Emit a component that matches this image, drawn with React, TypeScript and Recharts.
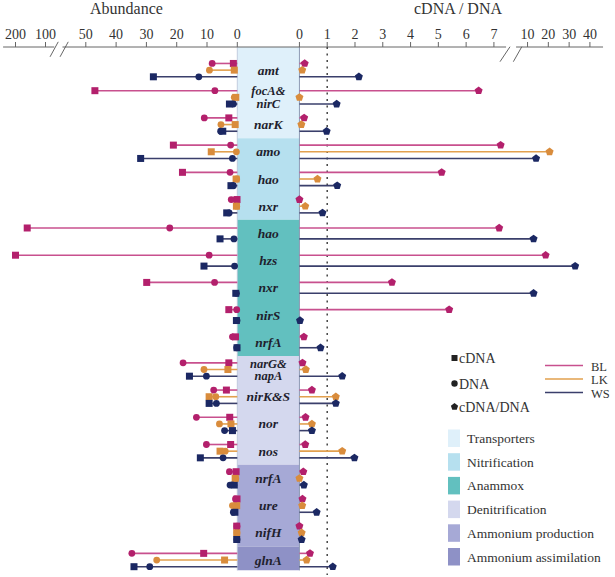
import React from 'react';
import { ComposedChart, XAxis, YAxis, Scatter, ReferenceLine, ReferenceArea } from 'recharts';

// ---------- data ----------
const genes = ['amt', 'focA&nirC', 'narK', 'amo', 'hao', 'nxr', 'hao', 'hzs', 'nxr', 'nirS', 'nrfA', 'narG&napA', 'nirK&S', 'nor', 'nos', 'nrfA', 'ure', 'nifH', 'glnA'];
const groupNames = ['Transporters', 'Nitrification', 'Anammox', 'Denitrification', 'Ammonium production', 'Ammonium assimilation'];
const groupFirst = [0, 3, 6, 11, 15, 18];
const groupLast = [2, 5, 10, 14, 17, 18];
const groupColors = ['#dff0fa', '#b6e0ef', '#62c0bf', '#d4d8ee', '#a6a9d6', '#8e91c6'];

const sites = ['BL', 'LK', 'WS'];
const siteMarker = ['#b3206c', '#d98c3c', '#1b2863'];
const siteLine = ['#c8508e', '#e2a04e', '#3a3f6b'];

const blCDNA = [1.3, 47, 2.8, 21.1, 18.1, 0.1, 161, 200, 29.9, 2.8, 0.6, 2.8, 3.6, 2.5, 2.2, 0.4, 0.1, 0.2, 11.1];
const blDNA = [8.3, 7.4, 10.9, 2.2, 2.4, 2.0, 22.3, 9.3, 7.5, 0.2, 1.6, 17.9, 7.8, 13.5, 10.2, 2.6, 0.6, 0.1, 34.8];
const blRatio = [0.19, 6.45, 0.17, 7.6, 5.12, 0.0, 7.47, 18.7, 3.33, 5.39, 0.16, 0.11, 0.45, 0.22, 0.21, 0.14, 0.11, 0.0, 0.38];

const lkCDNA = [1.0, 0.5, 0.7, 8.6, 0.4, 0.3, null, null, null, null, null, 3.1, 9.3, 2.1, 5.7, 0.7, 0.2, 0.2, 4.2];
const lkDNA = [9.2, 1.0, 5.4, 0.3, 0.2, 0.2, null, null, null, null, null, 11, 7.1, 5.9, 4.0, 0.5, 1.6, 0.1, 26.6];
const lkRatio = [0.1, 0.0, 0.07, 20.6, 0.65, 0.21, null, null, null, null, null, 0.23, 1.31, 0.45, 1.54, 0.0, 0.1, 0.08, 0.26];

const wsCDNA = [27.7, 2.6, 4.8, 31.9, 2.1, 3.5, 5.7, 11, 0.5, 0.3, 0.1, 15.8, 9.3, 1.6, 12.2, 1.0, 0.8, 0.2, 34.1];
const wsDNA = [12.7, 1.3, 5.5, 1.6, 1.3, 2.7, 1.1, 0.9, 0.3, 0.1, 0.2, 10.2, 6.9, 4.2, 4.7, 2.4, 1.3, 0.1, 28.9];
const wsRatio = [2.14, 1.34, 0.98, 14.1, 1.36, 0.83, 12.9, 32.9, 12.9, 0.02, 0.76, 1.54, 1.31, 0.45, 1.98, 0.16, 0.62, 0.08, 1.2];

const leftTicks = [200, 100, 50, 40, 30, 20, 10, 0];
const rightTicks = [0, 1, 2, 3, 4, 5, 6, 7, 10, 20, 30, 40];

const cdnaBySite = [blCDNA, lkCDNA, wsCDNA];
const dnaBySite = [blDNA, lkDNA, wsDNA];
const ratioBySite = [blRatio, lkRatio, wsRatio];

// ---------- broken-axis transforms ----------
const W = 20.5; // centre column width in axis units
const XMIN = -78.32;
const XMAX = 124.65;
const YMIN = -0.85;
const YMAX = 18.55;

function fL(a: number) {
  if (a <= 50) return a;
  if (a <= 100) return 50 + (a - 50) * 0.266;
  return 63.3 + (a - 100) * 0.099;
}
function fR(r: number) {
  if (r <= 7) return r * 9.17;
  if (r <= 10) return 64.19 + (r - 7) * 3.7;
  return 75.29 + (r - 10) * 0.686;
}

const tickObjs = [
  ...leftTicks.map((a) => ({ pos: -fL(a), label: String(a) })),
  ...rightTicks.map((r) => ({ pos: W + fR(r), label: String(r) })),
];
const tickPositions = tickObjs.map((t) => t.pos);

function rowY(i: number, s: number) {
  if (lkCDNA[i] === null) return i + (s === 0 ? -0.2 : 0.2);
  return i + (s - 1) * 0.245;
}

const FONT = '"Liberation Serif", "DejaVu Serif", serif';

function pentPoints(cx: number, cy: number, r: number) {
  const pts: string[] = [];
  for (let k = 0; k < 5; k++) {
    const ang = ((-90 + k * 72) * Math.PI) / 180;
    pts.push(`${cx + r * Math.cos(ang)},${cy + r * Math.sin(ang)}`);
  }
  return pts.join(' ');
}

const squareShape = (color: string) => (p: any) => (
  <rect x={p.cx - 3.5} y={p.cy - 3.5} width={7} height={7} fill={color} />
);
const circleShape = (color: string) => (p: any) => <circle cx={p.cx} cy={p.cy} r={3.4} fill={color} />;
const pentShape = (color: string) => (p: any) => <polygon points={pentPoints(p.cx, p.cy, 4.2)} fill={color} />;

const geneShape = (p: any) => {
  const label: string = p.payload.label;
  const amp = label.indexOf('&');
  const parts = amp > 0 && amp < label.length - 2 ? [label.slice(0, amp + 1), label.slice(amp + 1)] : [label];
  const style = { fontFamily: FONT, fontWeight: 700, fontStyle: 'italic', fontSize: 13.5, fill: '#1f1f2e' } as any;
  if (parts.length === 1) {
    return (
      <text x={p.cx} y={p.cy + 4.5} textAnchor="middle" style={style}>
        {parts[0]}
      </text>
    );
  }
  const style2 = { ...style, fontSize: 12.5 };
  return (
    <g>
      <text x={p.cx} y={p.cy - 2} textAnchor="middle" style={style2}>{parts[0]}</text>
      <text x={p.cx} y={p.cy + 10.5} textAnchor="middle" style={style2}>{parts[1]}</text>
    </g>
  );
};

const renderTick = (props: any) => {
  const v = props.payload.value;
  let best = tickObjs[0];
  for (const t of tickObjs) if (Math.abs(t.pos - v) < Math.abs(best.pos - v)) best = t;
  return (
    <text x={props.x} y={props.y - 1.5} textAnchor="middle" style={{ fontFamily: FONT, fontSize: 14, fill: '#333' }}>
      {best.label}
    </text>
  );
};

export default function App() {
  const geneData = genes.map((g, i) => ({ x: W / 2, y: i, label: g }));

  const leftSegs: any[] = [];
  const rightSegs: any[] = [];
  sites.forEach((_, s) => {
    genes.forEach((__, i) => {
      const c = cdnaBySite[s][i];
      const d = dnaBySite[s][i];
      const r = ratioBySite[s][i];
      if (c === null || d === null) return;
      const y = rowY(i, s);
      const end = Math.max(fL(c), fL(d));
      leftSegs.push({ key: `l${s}-${i}`, y, x: -end, color: siteLine[s] });
      if (r !== null && r > 0) rightSegs.push({ key: `r${s}-${i}`, y, x: W + fR(r), color: siteLine[s] });
    });
  });

  const pts = (s: number, kind: 'c' | 'd' | 'r') =>
    genes
      .map((_, i) => {
        const v = kind === 'c' ? cdnaBySite[s][i] : kind === 'd' ? dnaBySite[s][i] : ratioBySite[s][i];
        if (v === null) return null;
        return { x: kind === 'r' ? W + fR(v) : -fL(v), y: rowY(i, s) };
      })
      .filter(Boolean) as any[];

  const bandTop = (g: number) => (g === 0 ? YMIN : groupFirst[g] - 0.5);
  const bandBottom = (g: number) => (g === groupNames.length - 1 ? 18.38 : groupLast[g] + 0.5);

  return (
    <div style={{ position: 'absolute', left: 0, top: 0, width: 615, height: 577, background: '#fff' }}>
      <ComposedChart width={615} height={577} margin={{ top: 17, right: 0, bottom: 2, left: 0 }}>
        <XAxis
          type="number"
          dataKey="x"
          orientation="top"
          domain={[XMIN, XMAX]}
          allowDataOverflow
          ticks={tickPositions}
          interval={0}
          axisLine={false}
          tickLine={{ stroke: '#666' }}
          tickSize={5}
          tick={renderTick}
          height={30}
        />
        <YAxis type="number" dataKey="y" domain={[YMIN, YMAX]} reversed hide allowDataOverflow />

        {groupNames.map((g, k) => (
          <ReferenceArea key={g} x1={0} x2={W} y1={bandTop(k)} y2={bandBottom(k)} fill={groupColors[k]} fillOpacity={1} stroke="none" ifOverflow="visible" />
        ))}
        <ReferenceLine segment={[{ x: W, y: YMIN }, { x: W, y: 18.38 }]} stroke="#8e9ab4" strokeWidth={1} ifOverflow="visible" />
        <ReferenceLine segment={[{ x: 0, y: YMIN }, { x: 0, y: 18.38 }]} stroke="#b9c3d8" strokeWidth={0.8} ifOverflow="visible" />

        {/* axis line with breaks */}
        <ReferenceLine segment={[{ x: -77.3, y: YMIN }, { x: -60.4, y: YMIN }]} stroke="#666" strokeWidth={1} ifOverflow="visible" />
        <ReferenceLine segment={[{ x: -57.7, y: YMIN }, { x: 88.7, y: YMIN }]} stroke="#666" strokeWidth={1} ifOverflow="visible" />
        <ReferenceLine segment={[{ x: 92.0, y: YMIN }, { x: 120.7, y: YMIN }]} stroke="#666" strokeWidth={1} ifOverflow="visible" />
        <ReferenceLine segment={[{ x: -61.8, y: -0.49 }, { x: -59.1, y: -1.04 }]} stroke="#555" strokeWidth={0.9} ifOverflow="visible" />
        <ReferenceLine segment={[{ x: -58.5, y: -0.49 }, { x: -55.8, y: -1.04 }]} stroke="#555" strokeWidth={0.9} ifOverflow="visible" />
        <ReferenceLine segment={[{ x: 86.7, y: -0.31 }, { x: 90.0, y: -0.86 }]} stroke="#555" strokeWidth={0.9} ifOverflow="visible" />
        <ReferenceLine segment={[{ x: 91.1, y: -0.31 }, { x: 93.9, y: -0.86 }]} stroke="#555" strokeWidth={0.9} ifOverflow="visible" />

        <ReferenceLine x={W + fR(1)} stroke="#444" strokeWidth={1.5} strokeDasharray="2 4.5" />

        {leftSegs.map((sg) => (
          <ReferenceLine key={sg.key} segment={[{ x: 0, y: sg.y }, { x: sg.x, y: sg.y }]} stroke={sg.color} strokeWidth={1.6} ifOverflow="visible" />
        ))}
        {rightSegs.map((sg) => (
          <ReferenceLine key={sg.key} segment={[{ x: W, y: sg.y }, { x: sg.x, y: sg.y }]} stroke={sg.color} strokeWidth={1.6} ifOverflow="visible" />
        ))}

        <Scatter data={geneData} shape={geneShape} isAnimationActive={false} />

        {sites.map((s, k) => (
          <Scatter key={`c${s}`} data={pts(k, 'c')} shape={squareShape(siteMarker[k])} isAnimationActive={false} />
        ))}
        {sites.map((s, k) => (
          <Scatter key={`d${s}`} data={pts(k, 'd')} shape={circleShape(siteMarker[k])} isAnimationActive={false} />
        ))}
        {sites.map((s, k) => (
          <Scatter key={`r${s}`} data={pts(k, 'r')} shape={pentShape(siteMarker[k])} isAnimationActive={false} />
        ))}
      </ComposedChart>

      <svg width={615} height={577} style={{ position: 'absolute', left: 0, top: 0, pointerEvents: 'none' }}>
        <g style={{ fontFamily: FONT, fill: '#333' }}>
          <text x={126.5} y={14} textAnchor="middle" fontSize={16}>Abundance</text>
          <text x={458} y={14} textAnchor="middle" fontSize={16}>cDNA / DNA</text>

          <rect x={451.5} y={355} width={6} height={6} fill="#222" />
          <text x={459} y={363} fontSize={14}>cDNA</text>
          <circle cx={454.5} cy={383.5} r={3.2} fill="#222" />
          <text x={459} y={388.5} fontSize={14}>DNA</text>
          <polygon points={pentPoints(454.5, 406.8, 3.8)} fill="#222" />
          <text x={459} y={411.5} fontSize={14}>cDNA/DNA</text>

          {sites.map((s, k) => (
            <g key={s}>
              <line x1={545} x2={583} y1={365.5 + k * 13.5} y2={365.5 + k * 13.5} stroke={siteLine[k]} strokeWidth={1.6} />
              <text x={591} y={370.5 + k * 13.5} fontSize={12.5}>{s}</text>
            </g>
          ))}

          {groupNames.map((g, k) => (
            <g key={g}>
              <rect x={448} y={429.5 + k * 23.7} width={12} height={17.5} fill={groupColors[k]} />
              <text x={467} y={443 + k * 23.7} fontSize={13.5}>{g}</text>
            </g>
          ))}
        </g>
      </svg>
    </div>
  );
}
